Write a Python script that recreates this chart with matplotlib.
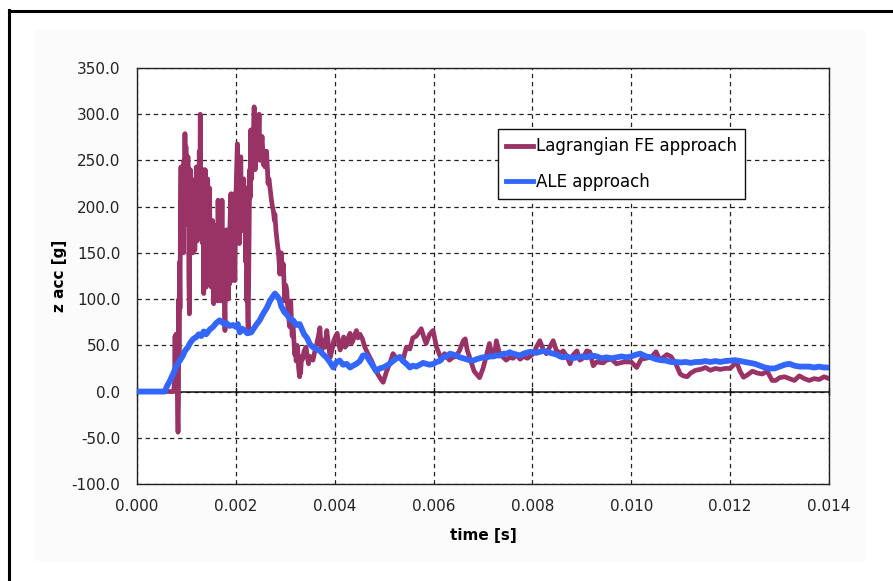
import matplotlib
matplotlib.use("Agg")
import matplotlib.pyplot as plt
from matplotlib.patches import Rectangle
from matplotlib.lines import Line2D

# ---------------- data (time in ms, acceleration in g) ----------------
lag_t = [0.00, 0.74, 0.76, 0.77, 0.78, 0.79, 0.80, 0.81, 0.82, 0.83, 0.84, 0.845, 0.85, 0.86,
         0.87, 0.88, 0.89, 0.90, 0.91, 0.92, 0.93, 0.94, 0.95, 0.96, 0.97, 0.98, 0.99, 1.00,
         1.01, 1.02, 1.03, 1.04, 1.05, 1.06, 1.07, 1.08, 1.09, 1.10, 1.11, 1.12, 1.13, 1.14,
         1.15, 1.16, 1.17, 1.18, 1.19, 1.20, 1.21, 1.22, 1.23, 1.24, 1.25, 1.26, 1.27, 1.28,
         1.29, 1.30, 1.31, 1.32, 1.33, 1.34, 1.35, 1.36, 1.37, 1.38, 1.39, 1.40, 1.41, 1.42,
         1.43, 1.44, 1.45, 1.46, 1.47, 1.48, 1.49, 1.50, 1.51, 1.52, 1.53, 1.54, 1.55, 1.56,
         1.57, 1.58, 1.59, 1.60, 1.61, 1.62, 1.63, 1.64, 1.65, 1.66, 1.67, 1.68, 1.69, 1.70,
         1.71, 1.72, 1.73, 1.74, 1.75, 1.76, 1.77, 1.78, 1.79, 1.80, 1.81, 1.82, 1.83, 1.84,
         1.85, 1.86, 1.87, 1.88, 1.89, 1.90, 1.91, 1.92, 1.93, 1.94, 1.95, 1.96, 1.97, 1.98,
         1.99, 2.00, 2.01, 2.02, 2.03, 2.04, 2.05, 2.06, 2.07, 2.08, 2.09, 2.10, 2.11, 2.12,
         2.13, 2.14, 2.15, 2.16, 2.17, 2.18, 2.19, 2.20, 2.21, 2.22, 2.23, 2.24, 2.25, 2.26,
         2.27, 2.28, 2.29, 2.30, 2.31, 2.32, 2.33, 2.34, 2.35, 2.36, 2.37, 2.38, 2.39, 2.40,
         2.41, 2.42, 2.43, 2.44, 2.45, 2.46, 2.47, 2.48, 2.49, 2.51, 2.53, 2.55, 2.56, 2.58,
         2.59, 2.61, 2.62, 2.64, 2.65, 2.67, 2.69, 2.71, 2.72, 2.74, 2.76, 2.78, 2.79, 2.81,
         2.82, 2.84, 2.86, 2.88, 2.89, 2.91, 2.92, 2.94, 2.96, 2.98, 2.99, 3.01, 3.03, 3.05,
         3.06, 3.08, 3.09, 3.10, 3.11, 3.13, 3.14, 3.15, 3.16, 3.18, 3.19, 3.21, 3.22, 3.24,
         3.25, 3.27, 3.29, 3.30, 3.31, 3.33, 3.35, 3.38, 3.42, 3.45, 3.47, 3.50, 3.56, 3.60,
         3.63, 3.67, 3.70, 3.72, 3.74, 3.77, 3.80, 3.84, 3.87, 3.90, 3.91, 3.95, 3.98, 4.02,
         4.05, 4.08, 4.11, 4.15, 4.18, 4.21, 4.24, 4.27, 4.31, 4.34, 4.37, 4.40, 4.44, 4.47,
         4.51, 4.56, 4.61, 4.68, 4.74, 4.81, 4.88, 4.95, 4.98, 5.05, 5.11, 5.18, 5.25, 5.32,
         5.38, 5.45, 5.52, 5.58, 5.65, 5.75, 5.82, 5.85, 5.92, 5.99, 6.06, 6.12, 6.16, 6.22,
         6.26, 6.32, 6.39, 6.46, 6.53, 6.60, 6.64, 6.68, 6.74, 6.82, 6.93, 7.00, 7.05, 7.13,
         7.18, 7.23, 7.27, 7.33, 7.41, 7.47, 7.54, 7.61, 7.68, 7.75, 7.82, 7.90, 8.02, 8.08,
         8.15, 8.22, 8.28, 8.35, 8.42, 8.48, 8.56, 8.62, 8.70, 8.76, 8.83, 8.90, 8.96, 9.02,
         9.10, 9.16, 9.23, 9.30, 9.43, 9.50, 9.60, 9.70, 9.85, 10.00, 10.11, 10.20, 10.30,
         10.42, 10.50, 10.58, 10.65, 10.72, 10.80, 10.90, 10.99, 11.05, 11.13, 11.20, 11.30,
         11.40, 11.50, 11.60, 11.70, 11.80, 11.90, 12.00, 12.13, 12.20, 12.27, 12.35, 12.45,
         12.55, 12.65, 12.75, 12.85, 12.92, 13.00, 13.10, 13.20, 13.30, 13.40, 13.50, 13.60,
         13.70, 13.80, 13.90, 14.00]
lag_v = [0, 0, 10, 60, 5, 62, 20, 50, -20, -44, -10, 100, 40, 140,
         90, 200, 243, 150, 230, 160, 220, 150, 250, 180, 279, 200, 265, 210,
         250, 207, 254, 220, 120, 84, 190, 240, 200, 210, 160, 190, 150, 200,
         170, 210, 153, 230, 190, 243, 180, 163, 220, 230, 175, 260, 190, 300,
         230, 180, 240, 207, 160, 240, 106, 200, 150, 240, 180, 113, 200, 173,
         230, 150, 207, 130, 220, 120, 185, 113, 170, 140, 185, 130, 95, 170,
         125, 155, 120, 180, 110, 160, 98, 207, 140, 190, 145, 120, 120, 98,
         160, 207, 150, 140, 170, 145, 100, 66, 130, 120, 175, 140, 163, 110,
         100, 150, 116, 180, 200, 214, 150, 120, 180, 146, 200, 214, 160, 120,
         170, 200, 230, 250, 268, 200, 170, 220, 160, 190, 230, 254, 200, 180,
         220, 174, 200, 230, 190, 221, 170, 140, 160, 98, 130, 80, 66, 120,
         180, 240, 210, 283, 250, 230, 260, 245, 270, 290, 308, 270, 240, 265,
         293, 270, 260, 285, 262, 280, 300, 270, 250, 262, 276, 255, 245, 255,
         243, 250, 260, 240, 225, 230, 221, 212, 207, 200, 195, 185, 192, 175,
         170, 160, 152, 135, 127, 145, 150, 130, 138, 110, 98, 115, 110, 90,
         84, 75, 70, 85, 98, 70, 60, 75, 70, 50, 40, 45, 33, 50,
         45, 25, 16, 25, 20, 38, 35, 44, 48, 36, 30, 38, 34, 44,
         50, 60, 69, 52, 45, 55, 48, 66, 52, 40, 37, 46, 55, 60,
         63, 52, 45, 54, 59, 48, 50, 58, 63, 52, 55, 61, 66, 58,
         62, 57, 48, 40, 34, 25, 18, 12, 10, 22, 30, 41, 36, 38,
         34, 48, 46, 58, 60, 68, 56, 52, 62, 66, 48, 40, 34, 41,
         38, 34, 37, 38, 45, 55, 57, 45, 35, 22, 15, 25, 35, 52,
         40, 38, 55, 42, 37, 34, 37, 36, 40, 35, 38, 36, 41, 48,
         55, 45, 41, 48, 55, 45, 41, 44, 38, 30, 40, 44, 34, 36,
         44, 43, 28, 32, 31, 34, 35, 30, 32, 32, 26, 35, 36,
         38, 43, 34, 37, 40, 38, 30, 19, 17, 16, 20, 23,
         24, 26, 23, 25, 24, 25, 25, 32, 22, 15.5, 18, 22,
         20, 19, 22, 12, 12, 15, 16, 14, 12, 17, 14, 12,
         14, 13, 16, 14]

ale_t = [0.00, 0.56, 0.60, 0.65, 0.73, 0.80, 0.86, 0.92, 0.97, 1.03, 1.08, 1.14, 1.20, 1.25,
         1.30, 1.35, 1.40, 1.47, 1.54, 1.60, 1.67, 1.72, 1.77, 1.81, 1.87, 1.94, 2.00, 2.04,
         2.08, 2.13, 2.18, 2.23, 2.31, 2.36, 2.41, 2.48, 2.55, 2.62, 2.69, 2.75, 2.79, 2.84,
         2.88, 2.92, 2.98, 3.05, 3.10, 3.16, 3.22, 3.29, 3.33, 3.38, 3.44, 3.50, 3.56, 3.63,
         3.70, 3.77, 3.83, 3.90, 3.97, 4.04, 4.10, 4.17, 4.24, 4.31, 4.37, 4.44, 4.51, 4.57,
         4.64, 4.70, 4.77, 4.84, 4.91, 4.98, 5.05, 5.11, 5.18, 5.25, 5.32, 5.38, 5.45, 5.52,
         5.58, 5.65, 5.72, 5.79, 5.85, 5.92, 6.00, 6.06, 6.12, 6.19, 6.26, 6.33, 6.40, 6.46,
         6.53, 6.60, 6.66, 6.73, 6.80, 6.87, 6.93, 7.00, 7.07, 7.14, 7.21, 7.27, 7.34, 7.41,
         7.48, 7.54, 7.61, 7.68, 7.75, 7.82, 7.88, 7.95, 8.02, 8.09, 8.15, 8.22, 8.29, 8.35,
         8.42, 8.49, 8.56, 8.62, 8.70, 8.80, 8.90, 9.00, 9.10, 9.20, 9.30, 9.40, 9.50, 9.60,
         9.70, 9.80, 9.90, 10.00, 10.10, 10.18, 10.30, 10.40, 10.50, 10.60, 10.70, 10.80,
         10.90, 11.00, 11.10, 11.20, 11.30, 11.40, 11.50, 11.60, 11.70, 11.80, 11.90, 12.00,
         12.10, 12.20, 12.30, 12.40, 12.50, 12.60, 12.70, 12.80, 12.90, 13.00, 13.10, 13.20,
         13.30, 13.40, 13.50, 13.60, 13.70, 13.80, 13.90, 14.00]
ale_v = [0, 0, 5, 10, 19, 28, 33, 38, 44, 48, 53, 57, 59, 62,
         60, 65, 62, 67, 70, 74, 77, 75, 73, 74, 71, 72, 70, 73,
         64, 68, 66, 63, 64, 68, 72, 77, 84, 90, 98, 103, 106, 103,
         100, 92, 86, 82, 78, 77, 72, 73, 68, 62, 58, 51, 48, 46,
         44, 40, 37, 32, 26, 32, 33.5, 29, 30, 26, 28, 30, 33, 39,
         39, 34, 28, 22, 25, 26, 28, 30, 33, 36, 37, 33, 30, 26,
         28, 27, 29, 31, 30, 29, 30, 32, 33, 37, 38, 41, 40, 39,
         37, 36, 35, 34, 33.5, 35, 36, 37, 37, 38, 38, 39, 39, 41,
         41, 42.5, 41, 40, 39, 41, 42, 43, 42.5, 42, 43, 44, 43, 42,
         41, 40, 38, 37, 38, 36, 37, 38, 37, 39, 38, 36, 37, 36,
         37, 38, 37, 38, 40, 41, 38, 37, 35, 34, 33.5, 32,
         32, 31.5, 32, 31, 32, 32, 33, 32, 33, 32, 33, 33.5,
         34, 33, 32, 31, 30, 28, 26, 25, 25, 27, 29, 30,
         28, 27, 27, 27, 26, 27, 26, 26]

x_ticks = [0.000, 0.002, 0.004, 0.006, 0.008, 0.010, 0.012, 0.014]
y_ticks = [-100, -50, 0, 50, 100, 150, 200, 250, 300, 350]
series_labels = ["Lagrangian FE approach", "ALE approach"]
x_label = "time [s]"
y_label = "z acc [g]"

RED = "#993366"
BLUE = "#3366FF"

plt.rcParams["font.family"] = ["DejaVu Sans"]

fig = plt.figure(figsize=(8.93, 5.81), dpi=100)
fig.patch.set_facecolor("white")

# outer frame and light background
fig.patches.append(Rectangle((35/893, 1-561/581), (866-35)/893, (561-30)/581,
                             transform=fig.transFigure, facecolor="#fbfbfb",
                             edgecolor="none", zorder=-10))
fig.lines.append(Line2D([8.5/893, 8.5/893], [0, 1-10/581], transform=fig.transFigure,
                        color="black", lw=2.2, zorder=-9))
fig.lines.append(Line2D([8.5/893, 1.0], [1-10.5/581, 1-10.5/581], transform=fig.transFigure,
                        color="black", lw=2.2, zorder=-9))

ax = fig.add_axes([137/893, 1-484/581, (829-137)/893, (484-68)/581])
ax.set_zorder(5)
ax.set_facecolor("white")

lag_ts = [t / 1000.0 for t in lag_t]
ale_ts = [t / 1000.0 for t in ale_t]

ax.plot(lag_ts, lag_v, color=RED, lw=3.4, label=series_labels[0], zorder=3)
ax.plot(ale_ts, ale_v, color=BLUE, lw=4.2, label=series_labels[1], zorder=4)

ax.set_xlim(0, 0.014)
ax.set_ylim(-100, 350)
ax.set_xticks(x_ticks)
ax.set_xticklabels([f"{v:.3f}" for v in x_ticks])
ax.set_yticks(y_ticks)
ax.set_yticklabels([f"{v:.1f}" for v in y_ticks])

ax.grid(True, color="#222222", linestyle=(0, (3.5, 3)), linewidth=0.9, zorder=1)
ax.set_axisbelow(True)
ax.tick_params(axis="both", length=0, labelsize=11, colors="#222222")
ax.tick_params(axis="x", pad=11)
ax.tick_params(axis="y", pad=12)
for s in ax.spines.values():
    s.set_color("#222222")
    s.set_linewidth(1.0)

# horizontal axis at y=0 with cross ticks
ax.axhline(0, color="#111111", lw=1.1, zorder=2)
for xt in x_ticks:
    ax.plot([xt, xt], [-4, 4], color="#111111", lw=1.0, zorder=2, clip_on=False)

ax.set_xlabel(x_label, fontsize=11, fontweight="bold", labelpad=10)
ax.set_ylabel(y_label, fontsize=11, fontweight="bold", labelpad=3)

leg = ax.legend(loc="upper left", bbox_to_anchor=(498/893, 1-129/581),
                bbox_transform=fig.transFigure, borderaxespad=0, fancybox=False,
                framealpha=1, edgecolor="#111111", fontsize=12, handlelength=1.6,
                handletextpad=0.15, labelspacing=1.05, borderpad=0.5)
leg.get_frame().set_linewidth(1.0)
for h in leg.get_lines():
    h.set_linewidth(3.5)

fig.savefig("out.png", dpi=100, facecolor=fig.get_facecolor())
